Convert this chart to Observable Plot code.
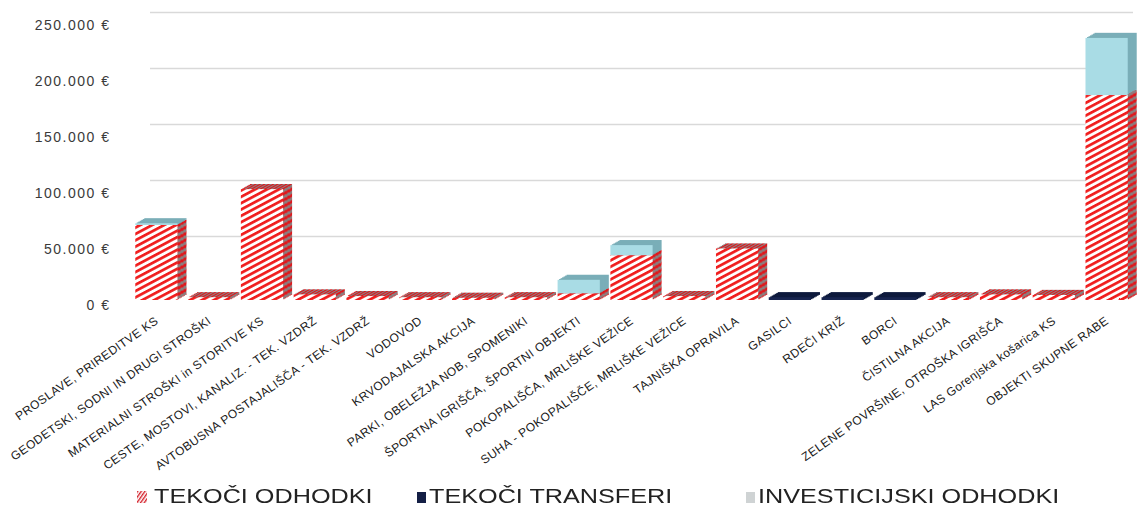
<!DOCTYPE html>
<html><head><meta charset="utf-8">
<script src="https://cdn.jsdelivr.net/npm/d3@7"></script>
<script src="https://cdn.jsdelivr.net/npm/@observablehq/plot@0.6"></script>
<style>
body{margin:0;background:#fff;font-family:"Liberation Sans",Arial,sans-serif;}
#wrap{position:relative;width:1137px;height:511px;overflow:hidden;background:#fff;}
#chart svg{display:block;}
g[aria-label="x-axis tick label"] text{letter-spacing:0.4px;}
g[aria-label="y-axis tick label"] text{letter-spacing:1.5px;}
.leg{position:absolute;top:484px;font-size:20.5px;line-height:24px;color:#222;white-space:nowrap;transform:scaleX(1.23);transform-origin:left center;}
.sw{position:absolute;top:491px;width:10px;height:12px;}
</style></head><body>
<svg width="0" height="0" style="position:absolute">
<defs>
<pattern id="redFront" patternUnits="userSpaceOnUse" width="8" height="5.6" patternTransform="rotate(-28)">
 <rect width="8" height="5.6" fill="#ffffff"/><rect width="8" height="2.7" fill="#f01c1c"/>
</pattern>
<pattern id="redSide" patternUnits="userSpaceOnUse" width="6" height="3.6" patternTransform="rotate(-55)">
 <rect width="6" height="3.6" fill="#8a7f80"/><rect width="6" height="1.8" fill="#e0161b"/>
</pattern>
<pattern id="legRed" patternUnits="userSpaceOnUse" width="4" height="3" patternTransform="rotate(-55)">
 <rect width="4" height="3" fill="#fff"/><rect width="4" height="1.4" fill="#d4202a"/>
</pattern>
</defs></svg>
<div id="wrap">
 <div id="chart"></div>
 <svg class="sw" style="left:137px" width="10" height="12"><rect width="10" height="12" fill="url(#legRed)"/></svg>
 <div class="leg" style="left:154px">TEKOČI ODHODKI</div>
 <div class="sw" style="left:417px;background:#141f45;width:9px;height:11px;top:492px"></div>
 <div class="leg" style="left:429px">TEKOČI TRANSFERI</div>
 <div class="sw" style="left:746px;background:#cfd3d4;width:9px;height:11px;top:492px;filter:blur(0.6px)"></div>
 <div class="leg" style="left:758px">INVESTICIJSKI ODHODKI</div>
</div>
<script>
const categories = [
  "PROSLAVE, PRIREDITVE KS",
  "GEODETSKI, SODNI IN DRUGI STROŠKI",
  "MATERIALNI STROŠKI in STORITVE KS",
  "CESTE, MOSTOVI, KANALIZ. - TEK. VZDRŽ",
  "AVTOBUSNA POSTAJALIŠČA - TEK. VZDRŽ",
  "VODOVOD",
  "KRVODAJALSKA AKCIJA",
  "PARKI, OBELEŽJA NOB, SPOMENIKI",
  "ŠPORTNA IGRIŠČA, ŠPORTNI OBJEKTI",
  "POKOPALIŠČA, MRLIŠKE VEŽICE",
  "SUHA - POKOPALIŠČE, MRLIŠKE VEŽICE",
  "TAJNIŠKA OPRAVILA",
  "GASILCI",
  "RDEČI KRIŽ",
  "BORCI",
  "ČISTILNA AKCIJA",
  "ZELENE POVRŠINE, OTROŠKA IGRIŠČA",
  "LAS Gorenjska košarica KS",
  "OBJEKTI SKUPNE RABE"
];
const seriesNames = ["TEKOČI ODHODKI", "TEKOČI TRANSFERI", "INVESTICIJSKI ODHODKI"];
const tekociOdhodki   = [67000, 2500, 99000, 5000, 3500, 2500, 2000, 2500, 6000, 40000, 3500, 46000, 0, 0, 0, 2500, 5000, 4500, 183000];
const tekociTransferi = [0, 0, 0, 0, 0, 0, 0, 0, 0, 0, 0, 0, 2500, 2500, 2500, 0, 0, 0, 0];
const investicijski   = [1500, 0, 0, 0, 0, 0, 0, 0, 12000, 9000, 0, 0, 0, 0, 0, 0, 0, 0, 51000];
const yTicks = [0, 50000, 100000, 150000, 200000, 250000];

const frontFill = {"TEKOČI ODHODKI": "url(#redFront)", "TEKOČI TRANSFERI": "#17244f", "INVESTICIJSKI ODHODKI": "#a9dce5"};
const backFill  = {"TEKOČI ODHODKI": "url(#redSide)",  "TEKOČI TRANSFERI": "#0e1a3d", "INVESTICIJSKI ODHODKI": "#7aaeb8"};

const valuesBySeries = [tekociOdhodki, tekociTransferi, investicijski];
const rows = [];
categories.forEach((c, i) => {
  seriesNames.forEach((s, j) => {
    const v = valuesBySeries[j][i];
    if (v > 0) rows.push({cat: c, series: s, value: v});
  });
});

const euro = d3.formatLocale({decimal: ",", thousands: ".", grouping: [3], currency: ["", " €"]}).format("$,");

// depth layers (far to near) to fake the 3D side and top faces
const depthLayers = [6, 5, 4, 3, 2, 1].map(k =>
  Plot.barY(rows, Plot.stackY({x: "cat", y: "value", z: "series", order: seriesNames,
    fill: d => backFill[d.series], dx: k * 1.5, dy: -k * 0.85}))
);

const chart = Plot.plot({
  width: 1137,
  height: 480,
  marginLeft: 130,
  marginRight: 4,
  marginTop: 20,
  marginBottom: 180,
  style: {fontFamily: "'Liberation Sans', Arial, sans-serif", background: "#fff"},
  x: {domain: categories, paddingInner: 0.2, paddingOuter: 0.1, round: false, axis: null},
  y: {domain: [0, 250000], axis: null},
  color: {type: "identity"},
  marks: [
    Plot.ruleY(yTicks.slice(1), {y: d => d, dy: -8, stroke: "#d9d9d9", strokeWidth: 1.5, insetLeft: 20}),
    ...depthLayers,
    Plot.barY(rows, Plot.stackY({x: "cat", y: "value", z: "series", order: seriesNames, fill: d => frontFill[d.series]})),
    Plot.axisY({ticks: yTicks, tickFormat: euro, tickSize: 0, tickPadding: 20, fontSize: 14, fill: "#3a3a3a", dy: 5, label: null}),
    Plot.axisX({tickRotate: -35, tickSize: 0, tickPadding: 19, fontSize: 12, fill: "#1a1a1a", label: null})
  ]
});
document.getElementById("chart").appendChild(chart);
</script>
</body></html>
